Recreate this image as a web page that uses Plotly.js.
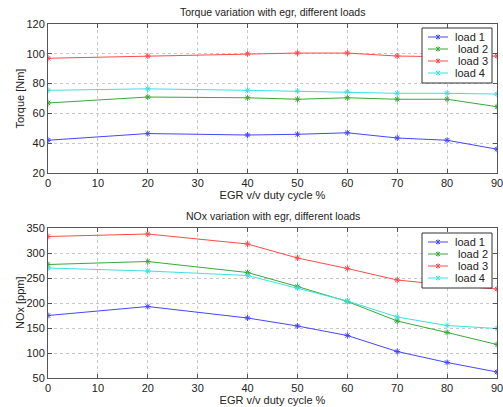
<!DOCTYPE html>
<html><head><meta charset="utf-8">
<script src="https://cdn.plot.ly/plotly-3.0.1.min.js"></script>
<style>body{margin:0;background:#fff}#c{width:503px;height:407px}</style>
</head><body><div id="c"></div>
<script>
const egr = [0, 20, 40, 50, 60, 70, 80, 90];
const loadNames = ['load 1', ' load 2', ' load 3', 'load 4'];
const colors = ['#4646ff', '#3aa83a', '#ff4a4a', '#3ee0e0'];
const torque1 = [42, 46.5, 45.5, 46, 47, 43.5, 42, 36];
const torque2 = [67, 71, 70.5, 69.5, 70.5, 69.5, 69.5, 64.5];
const torque3 = [97, 98.5, 100, 100.5, 100.5, 98.5, 98, 98.5];
const torque4 = [75.5, 76.5, 75.5, 75, 74.5, 73.5, 73.5, 73];
const nox1 = [175, 193, 170, 154, 135, 103, 81, 62];
const nox2 = [277, 283, 261, 233, 203, 164, 141, 117];
const nox3 = [333, 338, 318, 290, 269, 246, 236, 228];
const nox4 = [270, 264, 255, 230, 204, 172, 155, 149];

const torque = [torque1, torque2, torque3, torque4];
const nox = [nox1, nox2, nox3, nox4];
const traces = [];
function mk(ys, i, xa, ya) {
  return {x: egr, y: ys, name: loadNames[i], xaxis: xa, yaxis: ya, showlegend: false,
    mode: 'lines+markers', line: {color: colors[i], width: 1},
    marker: {symbol: 'asterisk-open', size: 5, line: {color: colors[i], width: 1}}};
}
torque.forEach((ys, i) => traces.push(mk(ys, i, 'x', 'y')));
nox.forEach((ys, i) => traces.push(mk(ys, i, 'x2', 'y2')));

const W = 503, H = 407, ML = 48, MR = 6, MT = 24, MB = 29;
const PW = W - ML - MR, PH = H - MT - MB;
const px2x = p => (p - ML) / PW;
const py2y = p => (H - MB - p) / PH;

const shapes = [], annotations = [];
function addLegend(top) {
  const left = 422, right = 492, rowH = 12, pad = 6;
  const bottom = top + pad + rowH * loadNames.length + 1;
  shapes.push({type: 'rect', xref: 'paper', yref: 'paper', x0: px2x(left), x1: px2x(right),
    y0: py2y(top), y1: py2y(bottom), line: {color: '#333', width: 1}, fillcolor: '#fff', layer: 'above'});
  loadNames.forEach((n, i) => {
    const cy = top + pad + 3 + rowH * i;
    const l0 = 428, l1 = 448, cx = 438, r = 2.5;
    const seg = (x0, y0, x1, y1) => shapes.push({type: 'line', xref: 'paper', yref: 'paper',
      x0: px2x(x0), x1: px2x(x1), y0: py2y(y0), y1: py2y(y1), line: {color: colors[i], width: 1}, layer: 'above'});
    seg(l0, cy, l1, cy);
    seg(cx, cy - r, cx, cy + r);
    seg(cx - r * 0.8, cy - r * 0.8, cx + r * 0.8, cy + r * 0.8);
    seg(cx - r * 0.8, cy + r * 0.8, cx + r * 0.8, cy - r * 0.8);
    annotations.push({text: n.replace(/^ /, '\u00a0'), xref: 'paper', yref: 'paper', x: px2x(453), y: py2y(cy),
      xanchor: 'left', yanchor: 'middle', showarrow: false, font: {size: 11, color: '#222'}});
  });
}
addLegend(28);
addLegend(233);

const ax = {
  showline: true, mirror: 'ticks', linecolor: '#555', linewidth: 1,
  ticks: 'inside', ticklen: 4, tickcolor: '#555', ticklabeloverflow: 'allow',
  showgrid: true, gridcolor: '#c8c8c8', griddash: 'dot', gridwidth: 1,
  zeroline: false, tickfont: {size: 11, color: '#222'}
};
const topDom = [0.579, 1], botDom = [0, 0.4237];
annotations.push(
  {text: 'Torque variation with egr, different loads', xref: 'paper', yref: 'paper',
   x: 0.5, y: 1, yshift: 4, yanchor: 'bottom', showarrow: false, font: {size: 10.5, color: '#222'}},
  {text: 'NOx variation with egr, different loads', xref: 'paper', yref: 'paper',
   x: 0.5, y: botDom[1], yshift: 4, yanchor: 'bottom', showarrow: false, font: {size: 10.5, color: '#222'}},
  {text: 'Torque [Nm]', xref: 'paper', yref: 'paper', x: px2x(20), y: (topDom[0] + topDom[1]) / 2,
   textangle: -90, xanchor: 'center', yanchor: 'middle', showarrow: false, font: {size: 11, color: '#222'}},
  {text: 'NOx [ppm]', xref: 'paper', yref: 'paper', x: px2x(20), y: (botDom[0] + botDom[1]) / 2,
   textangle: -90, xanchor: 'center', yanchor: 'middle', showarrow: false, font: {size: 11, color: '#222'}}
);
const layout = {
  width: W, height: H, margin: {l: ML, r: MR, t: MT, b: MB},
  paper_bgcolor: '#fff', plot_bgcolor: '#fff',
  font: {family: 'Liberation Sans, Arial, sans-serif', size: 11, color: '#222'},
  xaxis: Object.assign({}, ax, {domain: [0, 1], range: [0, 90], dtick: 10, anchor: 'y',
    title: {text: 'EGR v/v duty cycle %', font: {size: 11}, standoff: 3}}),
  yaxis: Object.assign({}, ax, {domain: topDom, range: [20, 120], dtick: 20, anchor: 'x'}),
  xaxis2: Object.assign({}, ax, {domain: [0, 1], range: [0, 90], dtick: 10, anchor: 'y2',
    title: {text: 'EGR v/v duty cycle %', font: {size: 11}, standoff: 3}}),
  yaxis2: Object.assign({}, ax, {domain: botDom, range: [50, 350], dtick: 50, anchor: 'x2'}),
  shapes: shapes, annotations: annotations
};
Plotly.newPlot('c', traces, layout, {displayModeBar: false, staticPlot: true});
</script></body></html>
